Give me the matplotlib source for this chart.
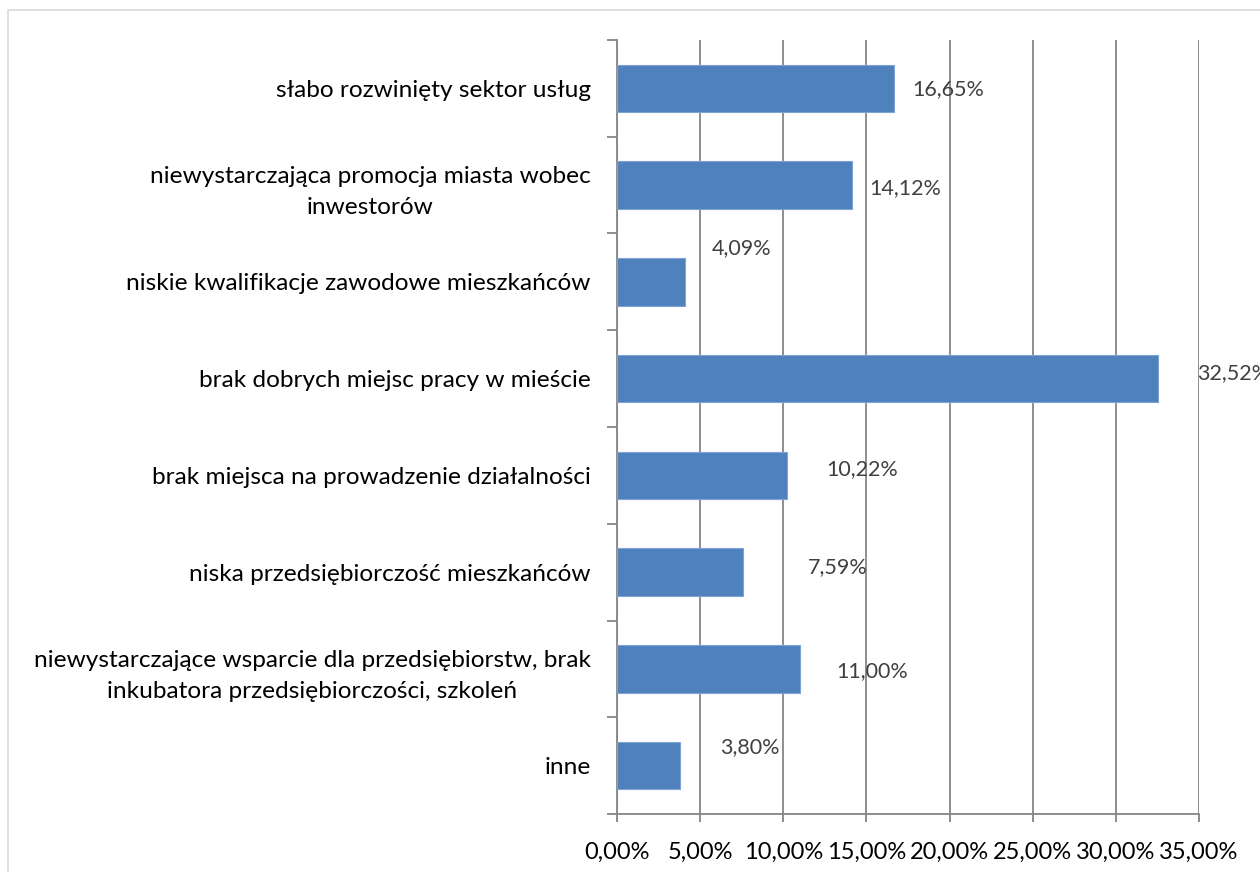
import matplotlib
matplotlib.use("Agg")
import matplotlib.pyplot as plt
from matplotlib.patches import Rectangle
from matplotlib.ticker import FixedLocator

categories = [
    "słabo rozwinięty sektor usług",
    "niewystarczająca promocja miasta wobec\ninwestorów",
    "niskie kwalifikacje zawodowe mieszkańców",
    "brak dobrych miejsc pracy w mieście",
    "brak miejsca na prowadzenie działalności",
    "niska przedsiębiorczość mieszkańców",
    "niewystarczające wsparcie dla przedsiębiorstw, brak\ninkubatora przedsiębiorczości, szkoleń",
    "inne",
]
values = [16.65, 14.12, 4.09, 32.52, 10.22, 7.59, 11.00, 3.80]
value_labels = ["16,65%", "14,12%", "4,09%", "32,52%", "10,22%", "7,59%", "11,00%", "3,80%"]
xticks = [0, 5, 10, 15, 20, 25, 30, 35]
xtick_labels = ["0,00%", "5,00%", "10,00%", "15,00%", "20,00%", "25,00%", "30,00%", "35,00%"]

# label offsets in pixels (dx from bar end, dy up from bar centre), Excel put them oddly
label_offsets = [(18, -1), (18, -3), (27, 34), (39, 6), (39, 6), (65, 5), (36, -2), (40, 19)]

plt.rcParams['font.family'] = ['Lato', 'DejaVu Sans']

fig = plt.figure(figsize=(12.6, 8.72), dpi=100)
fig.patches.append(Rectangle((8 / 1260, -0.1), 1.2, 1 - 10 / 872 + 0.1,
                             transform=fig.transFigure, fill=False,
                             edgecolor="#d9d9d9", linewidth=1.2))

ax = fig.add_axes([617 / 1260, 58 / 872, 582 / 1260, 774 / 872])
y = list(range(len(categories)))
ax.barh(y, values, height=0.49, color="#4f81bd", edgecolor="#7fa3d4", linewidth=0.8, zorder=3)

ax.set_xlim(0, 35)
ax.set_ylim(len(categories) - 0.5, -0.5)
ax.set_xticks(xticks)
ax.set_xticklabels(xtick_labels, fontsize=17)
ax.xaxis.grid(True, color="#868686", linewidth=1.3, zorder=0)

ax.set_yticks(y)
ax.set_yticklabels(categories, fontsize=17.6, multialignment="center", linespacing=1.6)
ax.yaxis.set_minor_locator(FixedLocator([i - 0.5 for i in range(len(categories) + 1)]))
ax.tick_params(axis="y", which="major", length=0, pad=19)
ax.tick_params(axis="y", which="minor", length=7, color="#868686", width=1.3)
ax.tick_params(axis="x", length=6, color="#868686", width=1.3, pad=14)

for s in ["top", "right"]:
    ax.spines[s].set_visible(False)
for s in ["left", "bottom"]:
    ax.spines[s].set_color("#868686")
    ax.spines[s].set_linewidth(1.3)

for i, v in enumerate(values):
    dx, dy = label_offsets[i]
    ax.annotate(value_labels[i], (v, i), xytext=(dx * 0.72, dy * 0.72),
                textcoords="offset points", ha="left", va="center",
                fontsize=15.5, color="#404040", zorder=4)

fig.savefig("out.png", dpi=100)
